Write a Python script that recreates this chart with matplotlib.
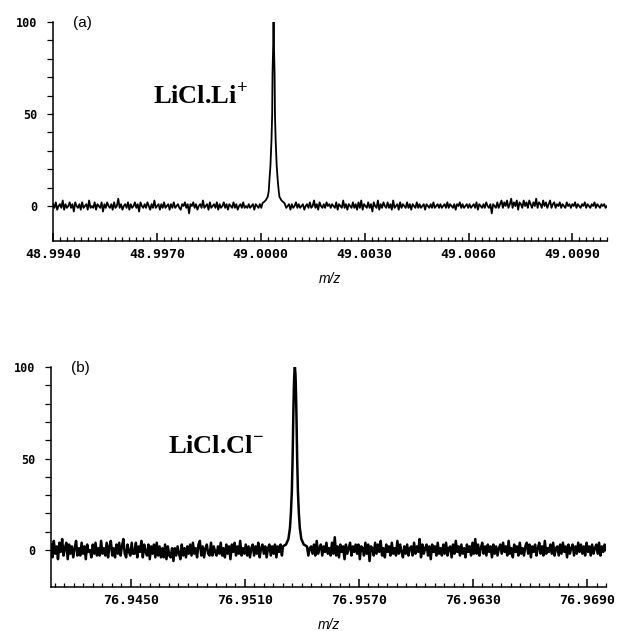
import matplotlib.pyplot as plt
import numpy as np
from matplotlib.ticker import FixedLocator, MultipleLocator

plt.rcParams["mathtext.fontset"] = "custom"
plt.rcParams["mathtext.rm"] = "Liberation Serif"
plt.rcParams["mathtext.bf"] = "Liberation Serif:bold"

# ---- panel (a): LiCl.Li+ ----
A_XLIM = (48.9940, 49.0100)
A_XTICKS = [48.9940, 48.9970, 49.0000, 49.0030, 49.0060, 49.0090]
A_BASE = [
    1, -1, 2, -2, 0, 1, -1, 3, -2, 1, -1, 0, 2, -1, 1, -3, 2, 0, -1, 1,
    -2, 2, -1, 0, 1, -2, 3, -1, 0, -1, 2, -2, 1, 0, -1, 2, -3, 1, -1, 2,
    0, -1, 1, -2, 2, -1, 0, 4, -1, 1, -2, 0, 1, -1, 2, -2, 1, -1, 0, 2,
    -1, 1, -3, 2, 0, -1, 1, -1, 2, 0, -2, 1, -1, 3, -1, 0, 1, -2, 1, -1,
    2, -1, 0, 1, -2, 1, -1, 2, -1, 0, 1, -1, -2, 1, 0, 2, -1, 1, -4, 1,
    0, 2, -1, 1, -2, 0, 1, -1, 3, -1, 0, 1, -2, 2, -1, 0, 1, -1, 2, -2,
    1, -1, 0, 2, -1, 1, -2, 1, 0, -1, 2, -1, 1, -2, 0, 1, -1, 2, -1, 0,
    -1, 1, -1, 0, 1, -2, 1, 0, -1, 1, -1, 2, 0, -1, 1, -1, 0, 1, -2, 1,
    0, -1, 1, -1, 2, -1, 0, 1, -1, 0, 1, -2, 1, -1, 0, 2, -1, 1, -1, 0,
    1, -2, 0, 1, -1, 2, -1, 0, 3, -1, 1, -2, 2, 0, -1, 1, -1, 2, 0, 1,
    -1, 1, 0, -1, 2, -2, 1, 0, -1, 3, -1, 1, -2, 1, 0, -1, 2, -1, 1, -2,
    2, -1, 3, -2, 1, 0, -1, 2, -1, 1, -3, 2, 0, -1, 3, -2, 1, -1, 2, 0,
    -1, 2, -1, 1, -2, 3, -1, 0, 1, -2, 2, -1, 1, 0, -1, 2, -1, 1, -2, 1,
    0, -1, 2, -1, 1, -1, 0, 1, -2, 1, 0, -1, 1, -1, 2, -1, 0, 1, -1, 1,
    -1, 0, 1, -1, 2, -1, 1, 0, -1, 1, -2, 1, 0, 2, -1, 1, -1, 0, 1, -1,
    1, -1, 0, 1, -1, 2, -2, 1, 0, -1, 1, -1, 2, 0, -1, 1, -4, 1, 0, -1,
    2, -1, 1, 3, -1, 2, 0, 3, -1, 1, 4, -1, 2, 0, 3, -2, 2, 1, -1, 3,
    0, 2, -1, 3, 1, -1, 2, 0, 4, -1, 2, 1, -1, 3, 0, 2, -1, 1, 3, -1,
    1, 2, -1, 1, 0, 2, -1, 1, 0, -1, 2, 0, 1, -1, 1, 0, 2, -1, 1, 0,
    -1, 1, 0, 2, -1, 1, 0, -1, 1, 0, 2, -1, 1, 0, -1, 1, 0, 1, -1, 0,
]
A_PEAK_MZ = [
    49.00005, 49.00014, 49.00020, 49.00023, 49.00025, 49.00028, 49.00031,
    49.00033, 49.00034, 49.00036, 49.00037, 49.00038, 49.00040, 49.00041,
    49.00043, 49.00046, 49.00049, 49.00052, 49.00054, 49.00060, 49.00069,
]
A_PEAK_INT = [
    1.5, 3, 5, 8, 14, 22, 36, 50, 72, 88, 100, 88, 72, 50, 36, 22, 14, 8, 5, 3, 1.5,
]

# ---- panel (b): LiCl.Cl- ----
B_XLIM = (76.9408, 76.9700)
B_XTICKS = [76.9450, 76.9510, 76.9570, 76.9630, 76.9690]
B_BASE = [
    3, -4, 5, -2, 2, -5, 4, -1, 6, -3, 1, 4, -5, 3, -2, 2, -4, 1, 5, -3,
    1, -3, 4, -2, 2, -5, 3, -1, 0, -4, 3, -2, 4, -3, 1, -3, 5, -2, 1, -3,
    4, -4, 2, 5, -3, 1, -4, 3, -2, 4, -3, 2, 6, -2, -4, 3, -1, -3, 4, -2,
    -2, 4, -4, 2, -1, 5, -4, 3, -1, -3, 3, -5, 2, -2, 3, -4, 4, -3, 2, -4,
    1, -4, 3, -5, 2, -3, -4, 1, -6, 1, -3, 2, -2, -5, 3, -3, 1, -4, 2, -2,
    3, -3, 4, -2, 1, -4, 3, 5, -3, 2, -4, 1, 3, -2, -3, 4, -3, 2, -1, -3,
    2, -2, 4, -3, 1, -4, 3, -2, 2, -5, 3, -1, 4, -3, 2, -2, 5, -3, 1, -2,
    3, -3, 2, -4, 1, 3, -3, 2, -2, 4, -4, 1, 3, -2, 2, -4, 1, 3, -3, 2,
    -2, 3, -4, 2, -1, 3, -3, 1, -2, 4, -3, 2, -1, 3, -4, 2, -2, 3, -1, -3,
    2, -2, 3, -1, 2, -3, 1, 2, -2, 3, -3, 5, -2, 1, 3, -3, 2, -1, 4, -2,
    1, -3, 4, -2, 7, -3, 2, -4, 3, -1, 2, -5, 3, -2, 1, 4, -3, 2, -1, 3,
    -2, 3, -5, 2, 1, -3, 4, -2, 3, -6, 2, 1, -3, 4, -2, 3, -1, 5, -3, 1,
    -4, 3, -1, 2, -3, 4, -2, 1, -3, 5, -2, 3, -1, -4, 2, -2, 3, -3, 1, 2,
    -3, 4, -2, 2, -1, 6, -4, 3, -2, 1, 3, -3, 2, -5, 3, -1, 2, -3, 4, -2,
    1, -3, 3, -2, 4, -3, 1, 2, -4, 3, -2, 5, -1, 2, -3, 3, -2, 1, -4, 3,
    -1, 2, -3, 4, -2, 6, -2, 3, -3, 1, 4, -2, 2, -3, 3, -1, 2, -4, 3, -2,
    2, -3, 1, 3, -2, 4, -1, 2, -3, 5, -2, 1, -4, 3, -1, 2, -3, 4, -2, 1,
    -3, 2, 4, -2, 3, -4, 2, -1, 3, -3, 1, 4, -2, 2, -3, 5, -2, 1, -1, 3,
    -2, 4, -3, 1, 2, -3, 3, -2, 4, -1, 2, -4, 3, -2, 1, 3, -3, 2, -2, 4,
    -1, 3, -2, 2, -3, 4, -1, 2, -3, 3, -2, 1, 3, -2, 4, -3, 2, -1, 3, 0,
]
B_PEAK_MZ = [
    76.95300, 76.95316, 76.95329, 76.95337, 76.95342, 76.95347, 76.95351,
    76.95355, 76.95358, 76.95360, 76.95363, 76.95366, 76.95368, 76.95371,
    76.95375, 76.95379, 76.95384, 76.95389, 76.95397, 76.95410, 76.95426,
]
B_PEAK_INT = [
    2, 3, 6, 12, 20, 32, 50, 75, 90, 96, 100, 96, 90, 75, 50, 32, 20, 12, 6, 3, 2,
]

Y_MAJOR = [0, 50, 100]
Y_MINOR = [10, 20, 30, 40, 60, 70, 80, 90]

TICK_FONT = dict(fontfamily="DejaVu Sans Mono", fontweight="bold")


def _trace(xlim, base, peak_mz, peak_int):
    base_mz = np.linspace(xlim[0], xlim[1], len(base))
    base = np.asarray(base, dtype=float)
    keep = (base_mz < min(peak_mz)) | (base_mz > max(peak_mz))
    mz = np.concatenate([base_mz[keep], peak_mz])
    inten = np.concatenate([base[keep], peak_int])
    order = np.argsort(mz)
    return mz[order], inten[order]


def _panel(ax, xlim, ylim, xticks, xminor, mz, inten, tag, label, label_xy, lw):
    ax.plot(mz, inten, color="black", lw=lw)
    ax.set_xlim(*xlim)
    ax.set_ylim(*ylim)
    for side in ("top", "right"):
        ax.spines[side].set_visible(False)
    for side in ("left", "bottom"):
        ax.spines[side].set_linewidth(1.1)

    ax.set_xticks(xticks)
    ax.set_xticklabels([f"{t:.4f}" for t in xticks], fontsize=9.5, **TICK_FONT)
    ax.xaxis.set_minor_locator(MultipleLocator(xminor))
    ax.tick_params(axis="x", which="both", direction="in", pad=5)
    ax.tick_params(axis="x", which="major", length=6, width=1.1)
    ax.tick_params(axis="x", which="minor", length=3, width=0.9)

    ax.set_yticks(Y_MAJOR)
    ax.set_yticklabels([str(v) for v in Y_MAJOR], fontsize=8.5, **TICK_FONT)
    ax.yaxis.set_minor_locator(FixedLocator(Y_MINOR))
    ax.tick_params(axis="y", which="both", direction="out", length=4.5, width=0.9, pad=7)

    ax.set_xlabel("m/z", fontstyle="italic", fontfamily="Liberation Sans",
                  fontsize=10, labelpad=8)
    ax.text(0.036, 0.995, tag, transform=ax.transAxes, fontsize=11,
            fontfamily="Liberation Sans", ha="left", va="center")
    ax.text(label_xy[0], label_xy[1], label, transform=ax.transAxes, fontsize=19,
            fontfamily="Liberation Serif", fontweight="bold", ha="left", va="baseline")


fig = plt.figure(figsize=(6.17, 6.31), dpi=100)
ax_a = fig.add_axes([0.0859, 0.6181, 0.8979, 0.3470])
ax_b = fig.add_axes([0.0827, 0.0697, 0.8995, 0.3487])

mz_a, int_a = _trace(A_XLIM, A_BASE, A_PEAK_MZ, A_PEAK_INT)
mz_b, int_b = _trace(B_XLIM, B_BASE, B_PEAK_MZ, B_PEAK_INT)

_panel(ax_a, A_XLIM, (-19, 100), A_XTICKS, 0.0002, mz_a, int_a, "(a)",
       r"LiCl.Li$^{\mathbf{+}}$", (0.180, 0.626), 1.3)
_panel(ax_b, B_XLIM, (-20.2, 100), B_XTICKS, 0.0005, mz_b, int_b, "(b)",
       r"LiCl.Cl$^{\mathbf{-}}$", (0.211, 0.609), 1.8)

fig.savefig("out.png", dpi=100, facecolor="white")
